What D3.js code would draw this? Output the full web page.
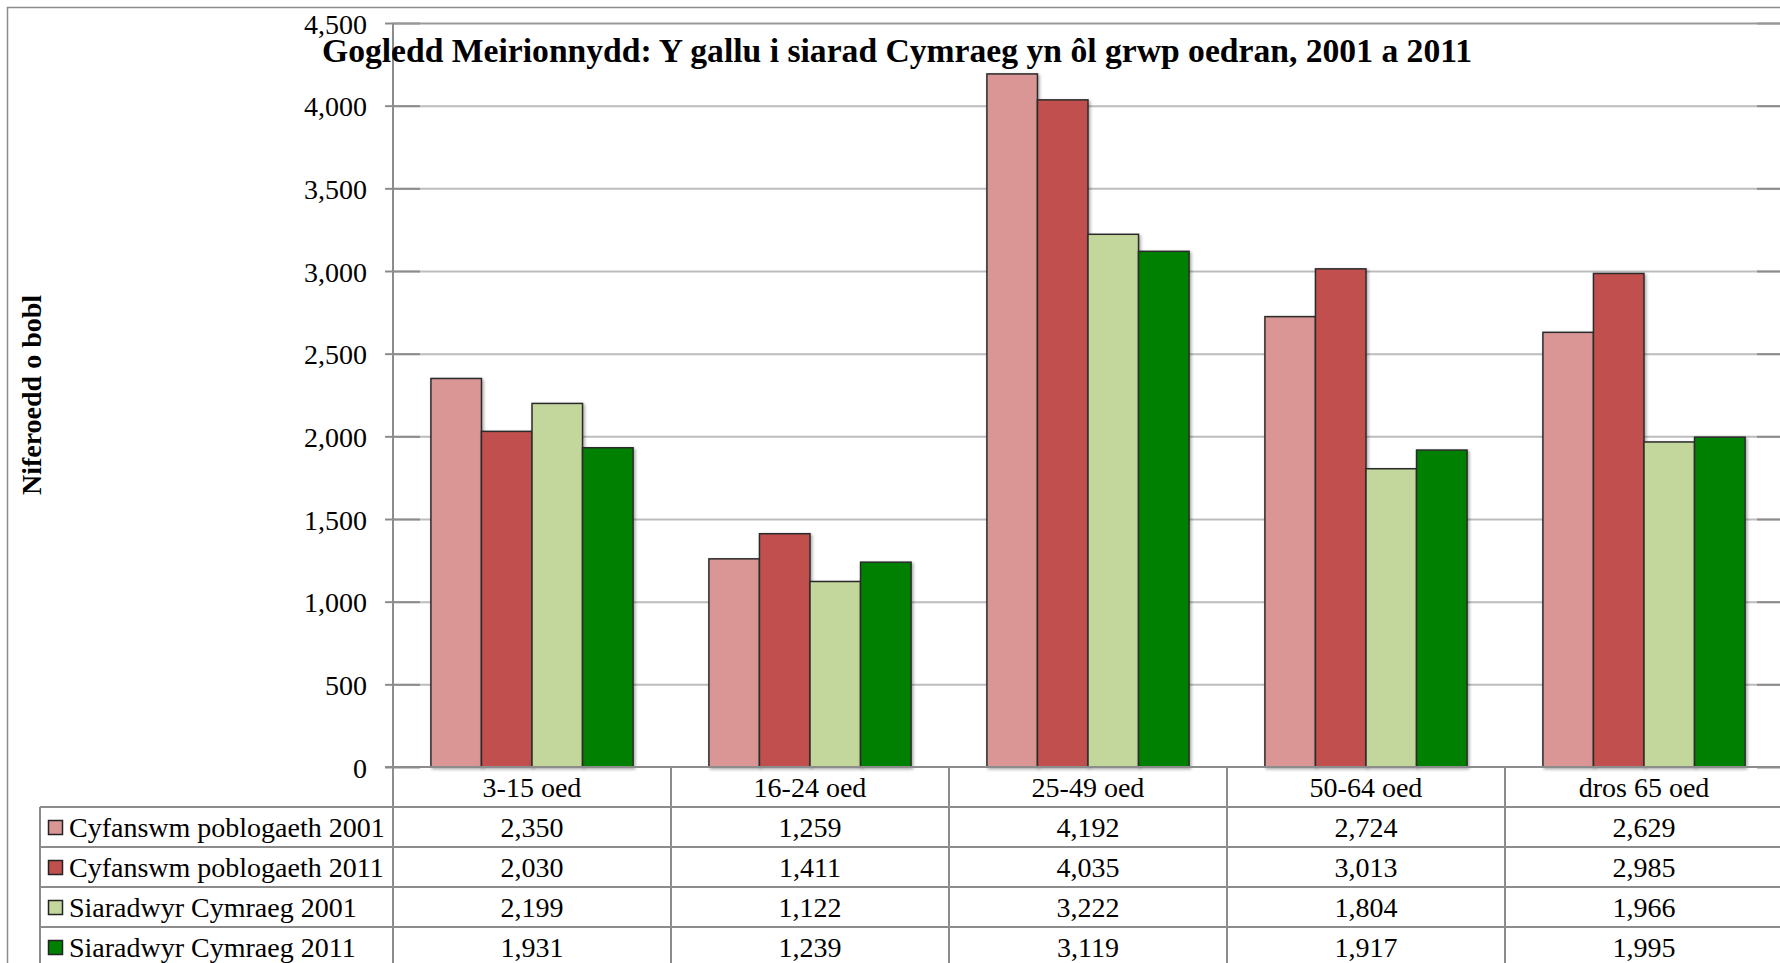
<!DOCTYPE html>
<html lang="cy">
<head>
    <meta charset="UTF-8">
    <title>Gogledd Meirionnydd</title>
    <script src="https://cdn.jsdelivr.net/npm/d3@7"></script>
    <style>
        body { margin: 0; background: #fff; }
        text { font-family: "Liberation Serif", "DejaVu Serif", serif; }
    </style>
</head>
<body>

<script>
    // grwpiau oedran
    const categories = ["3-15 oed", "16-24 oed", "25-49 oed", "50-64 oed", "dros 65 oed"];

    // cyfresi
    const seriesNames = [
        "Cyfanswm poblogaeth 2001",
        "Cyfanswm poblogaeth 2011",
        "Siaradwyr Cymraeg 2001",
        "Siaradwyr Cymraeg 2011"
    ];
    const pop2001 = [2350, 1259, 4192, 2724, 2629];
    const pop2011 = [2030, 1411, 4035, 3013, 2985];
    const welsh2001 = [2199, 1122, 3222, 1804, 1966];
    const welsh2011 = [1931, 1239, 3119, 1917, 1995];

    const yTicks = [0, 500, 1000, 1500, 2000, 2500, 3000, 3500, 4000, 4500];

    const colours = ["#d99694", "#c0504d", "#c3d69b", "#008000"];
    const seriesValues = [pop2001, pop2011, welsh2001, welsh2011];

    var w = 1780,
        h = 963;
    // ymylon y plot (peidio defnyddio "top", mae'n perthyn i window)
    var plotL = 393, plotR = 1783, plotT = 23, plotB = 767;
    var rowH = 40;

    var svg = d3.select("body")
        .append("svg")
        .attr("width", w)
        .attr("height", h);

    // cysgod bach i'r barrau
    var defs = svg.append("defs");
    var f = defs.append("filter").attr("id", "shadow")
        .attr("x", "-10%").attr("y", "-10%").attr("width", "130%").attr("height", "130%");
    f.append("feDropShadow").attr("dx", 1.5).attr("dy", 1.5)
        .attr("stdDeviation", 1.5).attr("flood-color", "#000").attr("flood-opacity", 0.35);

    // ffrâm allanol
    svg.append("rect")
        .attr("x", 7.5).attr("y", 7.5)
        .attr("width", w + 20).attr("height", h + 20)
        .attr("fill", "none").attr("stroke", "#8c8c8c").attr("stroke-width", 1.5);

    var x0 = d3.scaleBand()
        .domain(categories)
        .range([plotL, plotR]);

    var x1 = d3.scaleBand()
        .domain(seriesNames)
        .range([0, x0.bandwidth()])
        .paddingInner(0)
        .paddingOuter(0.75);

    var y = d3.scaleLinear()
        .domain([0, 4500])
        .range([plotB, plotT]);

    // llinellau grid
    var grid = svg.append("g");
    grid.selectAll("line.grid")
        .data(yTicks.filter(function (d) { return d > 0 && d < 4500; }))
        .enter()
        .append("line")
        .attr("x1", plotL).attr("x2", plotR)
        .attr("y1", function (d) { return y(d) + 0.5; })
        .attr("y2", function (d) { return y(d) + 0.5; })
        .attr("stroke", "#bdbdbd").attr("stroke-width", 2);
    // darnau tywyll ar bennau'r grid
    grid.selectAll("line.endL")
        .data(yTicks)
        .enter()
        .append("line")
        .attr("x1", plotL).attr("x2", plotL + 27)
        .attr("y1", function (d) { return y(d) + 0.5; })
        .attr("y2", function (d) { return y(d) + 0.5; })
        .attr("stroke", "#8c8c8c").attr("stroke-width", 2);
    grid.selectAll("line.endR")
        .data(yTicks)
        .enter()
        .append("line")
        .attr("x1", plotR - 26).attr("x2", plotR)
        .attr("y1", function (d) { return y(d) + 0.5; })
        .attr("y2", function (d) { return y(d) + 0.5; })
        .attr("stroke", "#8c8c8c").attr("stroke-width", 2);
    svg.append("line")
        .attr("x1", plotL).attr("x2", plotR)
        .attr("y1", plotT + 0.5).attr("y2", plotT + 0.5)
        .attr("stroke", "#999").attr("stroke-width", 2);

    // echelin y
    var yAxis = d3.axisLeft(y)
        .tickValues(yTicks)
        .tickFormat(d3.format(","))
        .tickSize(8)
        .tickSizeOuter(0)
        .tickPadding(18);
    var ya = svg.append("g")
        .attr("transform", "translate(" + plotL + ",0)")
        .call(yAxis);
    ya.select(".domain").remove();
    ya.selectAll("line").attr("stroke", "#8c8c8c").attr("stroke-width", 2);
    ya.selectAll("text")
        .attr("font-family", "Liberation Serif")
        .attr("font-size", "28px")
        .attr("fill", "#000")
        .attr("dy", "0.36em");

    // barrau
    var groups = svg.selectAll("g.cat")
        .data(categories)
        .enter()
        .append("g")
        .attr("transform", function (d) { return "translate(" + x0(d) + ",0)"; });

    groups.selectAll("rect")
        .data(function (d, i) {
            return seriesNames.map(function (s, j) {
                return { series: s, value: seriesValues[j][i], colour: colours[j] };
            });
        })
        .enter()
        .append("rect")
        .attr("x", function (d) { return x1(d.series); })
        .attr("y", function (d) { return y(d.value); })
        .attr("width", x1.bandwidth())
        .attr("height", function (d) { return y(0) - y(d.value); })
        .attr("fill", function (d) { return d.colour; })
        .attr("stroke", "#2b2b2b")
        .attr("stroke-width", 1.5)
        .attr("filter", "url(#shadow)");

    // tabl data
    var tableLeft = 40;
    var nRows = seriesNames.length;
    var tableBottom = plotB + rowH * (nRows + 1) + 20;
    var lineCol = "#8c8c8c";

    // llinellau llorweddol
    svg.append("line")
        .attr("x1", plotL - 8).attr("x2", plotR)
        .attr("y1", plotB).attr("y2", plotB)
        .attr("stroke", lineCol).attr("stroke-width", 2);
    svg.selectAll("line.row")
        .data(d3.range(1, nRows + 1))
        .enter()
        .append("line")
        .attr("x1", tableLeft).attr("x2", plotR)
        .attr("y1", function (d) { return plotB + d * rowH; })
        .attr("y2", function (d) { return plotB + d * rowH; })
        .attr("stroke", lineCol).attr("stroke-width", 2);

    // llinellau fertigol
    svg.append("line")
        .attr("x1", plotL).attr("x2", plotL)
        .attr("y1", plotT).attr("y2", tableBottom)
        .attr("stroke", lineCol).attr("stroke-width", 2);
    svg.append("line")
        .attr("x1", tableLeft).attr("x2", tableLeft)
        .attr("y1", plotB + rowH).attr("y2", tableBottom)
        .attr("stroke", lineCol).attr("stroke-width", 2);
    svg.selectAll("line.col")
        .data(categories.slice(1))
        .enter()
        .append("line")
        .attr("x1", function (d) { return x0(d); })
        .attr("x2", function (d) { return x0(d); })
        .attr("y1", plotB).attr("y2", tableBottom)
        .attr("stroke", lineCol).attr("stroke-width", 2);

    // labeli categori
    svg.selectAll("text.cat")
        .data(categories)
        .enter()
        .append("text")
        .attr("x", function (d) { return x0(d) + x0.bandwidth() / 2; })
        .attr("y", plotB + 30)
        .attr("text-anchor", "middle")
        .attr("font-size", "28px")
        .text(function (d) { return d; });

    // rhesi'r allwedd
    var rows = svg.selectAll("g.row")
        .data(seriesNames)
        .enter()
        .append("g")
        .attr("transform", function (d, i) { return "translate(0," + (plotB + rowH * (i + 1)) + ")"; });

    rows.append("rect")
        .attr("x", 48.5).attr("y", 13.5)
        .attr("width", 14).attr("height", 14)
        .attr("fill", function (d, i) { return colours[i]; })
        .attr("stroke", "#222").attr("stroke-width", 1.5);

    rows.append("text")
        .attr("x", 69).attr("y", 30)
        .attr("font-size", "28px")
        .text(function (d) { return d; });

    rows.selectAll("text.val")
        .data(function (d, i) { return seriesValues[i]; })
        .enter()
        .append("text")
        .attr("x", function (d, j) { return x0(categories[j]) + x0.bandwidth() / 2; })
        .attr("y", 30)
        .attr("text-anchor", "middle")
        .attr("font-size", "28px")
        .text(function (d) { return d3.format(",")(d); });

    // teitl
    svg.append("text")
        .attr("x", 322).attr("y", 62)
        .attr("font-size", "34px")
        .attr("font-weight", "bold")
        .attr("textLength", 1150)
        .attr("lengthAdjust", "spacingAndGlyphs")
        .text("Gogledd Meirionnydd: Y gallu i siarad Cymraeg yn ôl grwp oedran, 2001 a 2011");

    // teitl echelin y
    svg.append("text")
        .attr("transform", "translate(41,395) rotate(-90)")
        .attr("text-anchor", "middle")
        .attr("font-size", "28px")
        .attr("font-weight", "bold")
        .text("Niferoedd o bobl");
</script>

</body>
</html>
